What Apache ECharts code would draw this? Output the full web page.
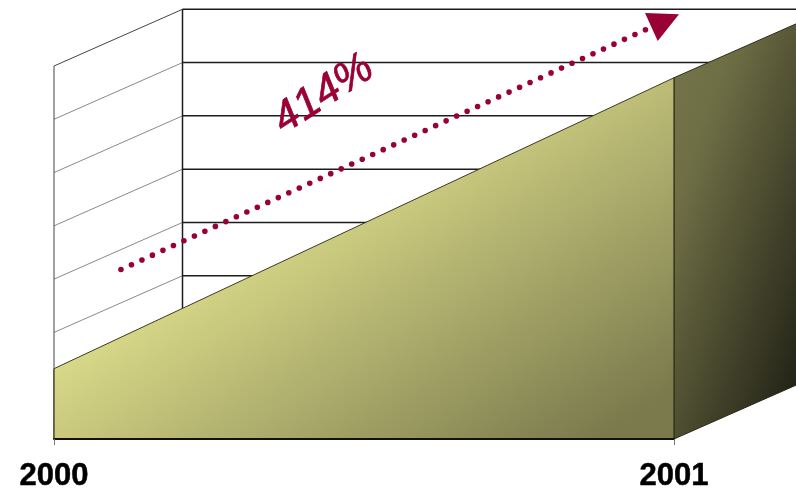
<!DOCTYPE html>
<html>
<head>
<meta charset="utf-8">
<style>html,body{margin:0;padding:0;background:#fff}#c{width:796px;height:494px}</style>
<script src="https://cdn.jsdelivr.net/npm/echarts@6/dist/echarts.min.js"></script>
</head>
<body>
<div id="c"></div>
<script>
// Yearly totals, in axis units
const years = ['2000', '2001'];
const totals = [1.32, 6.78];
const gridValues = [0, 1, 2, 3, 4, 5, 6, 7];
// Growth annotation: [share of the year span, axis value]
const trendStart = [0.108, 3.18];
const trendEnd = [0.9544, 7.683];
const growthLabel = '414%';
const growthLabelAt = [0.435, 6.47];

// Pixel offset from the front plane to the back wall
const DEPTH_X = 128.5;
const DEPTH_Y = -56.7;
const MAROON = '#990033';

const chart = echarts.init(document.getElementById('c'), null, {renderer: 'canvas'});

function line(a, b, stroke, width) {
  return {
    type: 'line',
    shape: {x1: a[0], y1: a[1], x2: b[0], y2: b[1]},
    style: {stroke: stroke, lineWidth: width, fill: null}
  };
}
const back = p => [p[0] + DEPTH_X, p[1] + DEPTH_Y];

// One horizontal level on the side wall and back wall
function renderLevel(params, api) {
  const v = api.value(0);
  const left = api.coord([0, v]);
  const right = api.coord([1, v]);
  const top = v === gridValues[gridValues.length - 1];
  return {type: 'group', children: [
    line(left, back(left), top ? '#444444' : '#8a8a8a', 1),
    line(back(left), back(right), '#1c1c1c', 1.5)
  ]};
}

// Wall corners
function renderCorners(params, api) {
  const maxV = gridValues[gridValues.length - 1];
  const a = api.coord([0, 0]);
  const b = api.coord([0, maxV]);
  return {type: 'group', children: [
    line(a, b, '#444444', 1),
    line(back(a), back(b), '#1c1c1c', 1.5)
  ]};
}

// Right-hand face of the 2001 block
function renderSide(params, api) {
  const top = api.coord([1, api.value(0)]);
  const base = api.coord([1, 0]);
  return {
    type: 'polygon',
    shape: {points: [top, back(top), back(base), base]},
    style: {
      fill: new echarts.graphic.LinearGradient(top[0], top[1], top[0] + 206, top[1] + 72, [
        {offset: 0, color: '#737349'},
        {offset: 0.2, color: '#6f6f46'},
        {offset: 1, color: '#232317'}
      ], true),
      stroke: '#2b2b18',
      lineWidth: 1
    }
  };
}

// Dark vertical edges of the front face
function renderEdges(params, api) {
  const x = api.value(0);
  return line(api.coord([x, 0]), api.coord([x, api.value(1)]), '#33331c', 1.2);
}

// Dotted growth arrow with its head
function renderArrow(params, api) {
  const s = api.coord(trendStart);
  const e = api.coord(trendEnd);
  return {type: 'group', children: [
    {
      type: 'line',
      shape: {x1: s[0], y1: s[1], x2: e[0], y2: e[1]},
      style: {stroke: MAROON, lineWidth: 5.6, lineCap: 'round', lineDash: [0, 11.534], fill: null}
    },
    {
      type: 'polygon',
      shape: {points: [[e[0] - 0.7, e[1] - 16.7], [e[0] + 33.3, e[1] - 15.4], [e[0] + 12, e[1] + 11.3]]},
      style: {fill: MAROON}
    }
  ]};
}

function renderGrowthLabel(params, api) {
  const p = api.coord(growthLabelAt);
  return {
    type: 'text',
    x: p[0],
    y: p[1],
    rotation: Math.PI * 33 / 180,
    originX: 0,
    originY: 0,
    style: {
      text: growthLabel,
      font: 'italic 43px "Liberation Sans", Arial, sans-serif',
      fill: MAROON,
      stroke: MAROON,
      lineWidth: 0.7,
      align: 'center',
      verticalAlign: 'middle',
      shadowColor: 'rgba(90,90,90,0.55)',
      shadowBlur: 2,
      shadowOffsetX: 2,
      shadowOffsetY: 2
    }
  };
}

const custom = (z, data, renderItem) => ({
  type: 'custom',
  xAxisIndex: 1,
  yAxisIndex: 0,
  z: z,
  silent: true,
  clip: false,
  data: data,
  renderItem: renderItem
});

chart.setOption({
  animation: false,
  backgroundColor: '#ffffff',
  grid: {left: 54, right: 122, top: 66, bottom: 55},
  xAxis: [
    {
      type: 'category',
      data: years,
      boundaryGap: false,
      z: 10,
      axisLine: {lineStyle: {color: '#111111', width: 2}},
      axisTick: {show: true, length: 6, lineStyle: {color: '#777777', width: 1}},
      axisLabel: {
        color: '#000000',
        fontFamily: '"Liberation Sans", Arial, sans-serif',
        fontWeight: 'bold',
        fontSize: 31,
        margin: 22,
        textBorderColor: '#000000',
        textBorderWidth: 0.5,
        hideOverlap: false,
        showMinLabel: true,
        showMaxLabel: true
      },
      splitLine: {show: false}
    },
    {type: 'value', min: 0, max: 1, show: false}
  ],
  yAxis: {type: 'value', min: 0, max: 7, interval: 1, show: false},
  series: [
    custom(1, gridValues.map(v => [v]), renderLevel),
    custom(1, [[0]], renderCorners),
    custom(3, [[totals[1]]], renderSide),
    {
      type: 'line',
      xAxisIndex: 0,
      yAxisIndex: 0,
      z: 4,
      data: totals,
      symbol: 'none',
      silent: true,
      lineStyle: {color: '#3a3a20', width: 1},
      areaStyle: {
        opacity: 1,
        color: new echarts.graphic.LinearGradient(55, 370, 257, 669, [
          {offset: 0, color: '#d8d888'},
          {offset: 1, color: '#7a7a4d'}
        ], true)
      }
    },
    custom(5, [[0, totals[0]], [1, totals[1]]], renderEdges),
    custom(7, [[0]], renderArrow),
    custom(8, [[0]], renderGrowthLabel)
  ]
});
</script>
</body>
</html>
